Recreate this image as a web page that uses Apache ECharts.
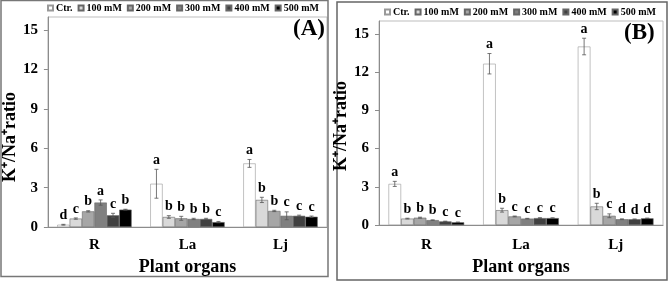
<!DOCTYPE html>
<html>
<head>
<meta charset="utf-8">
<script src="https://cdn.jsdelivr.net/npm/echarts@6/dist/echarts.min.js"></script>
<style>
html,body{margin:0;padding:0;background:#fff;}
#main{width:669px;height:281px;}
</style>
</head>
<body>
<div id="main"></div>
<script>
/*------------数据------------*/
var organs = ['R', 'La', 'Lj'];
var treatments = ['Ctr.', '100 mM', '200 mM', '300 mM', '400 mM', '500 mM'];
var colors = ['#ffffff', '#d9d9d9', '#a6a6a6', '#808080', '#404040', '#000000'];
var yTicks = [0, 3, 6, 9, 12, 15];

// (A)
var ctrA = [0.18, 3.3, 4.85];
var m100A = [0.65, 0.77, 2.07];
var m200A = [1.2, 0.67, 1.23];
var m300A = [1.87, 0.62, 0.86];
var m400A = [0.9, 0.62, 0.86];
var m500A = [1.33, 0.38, 0.79];
var errA = [[0.03, 1.1, 0.3], [0.05, 0.1, 0.2], [0.05, 0.15, 0.05], [0.2, 0.05, 0.3], [0.15, 0.05, 0.05], [0.03, 0.05, 0.05]];
var letA = [['d', 'a', 'a'], ['c', 'b', 'b'], ['b', 'b', 'b'], ['a', 'b', 'c'], ['c', 'b', 'c'], ['b', 'c', 'c']];

// (B)
var ctrB = [3.23, 12.65, 14.0];
var m100B = [0.51, 1.17, 1.46];
var m200B = [0.58, 0.68, 0.73];
var m300B = [0.39, 0.51, 0.46];
var m400B = [0.29, 0.55, 0.46];
var m500B = [0.22, 0.55, 0.53];
var errB = [[0.2, 0.8, 0.65], [0.03, 0.15, 0.25], [0.04, 0.03, 0.15], [0.02, 0.02, 0.03], [0.02, 0.03, 0.02], [0.02, 0.02, 0.02]];
var letB = [['a', 'a', 'a'], ['b', 'b', 'b'], ['b', 'c', 'c'], ['b', 'c', 'd'], ['c', 'c', 'd'], ['c', 'c', 'd']];

var valsA = [ctrA, m100A, m200A, m300A, m400A, m500A];
var valsB = [ctrB, m100B, m200B, m300B, m400B, m500B];

var FONT = '"Liberation Serif", "Times New Roman", serif';

/*------------series------------*/
function barSeries(vals, idx) {
	return vals.map(function(v, i) {
		return {
			type: 'bar',
			name: treatments[i],
			xAxisIndex: idx,
			yAxisIndex: idx,
			barGap: '0%',
			barCategoryGap: '20%',
			itemStyle: {color: colors[i], borderColor: i == 0 ? '#999' : '#666', borderWidth: 0.6},
			emphasis: {disabled: true},
			data: v
		};
	});
}

function errData(vals, errs) {
	var res = [];
	vals.forEach(function(v, s) {
		v.forEach(function(val, c) {
			res.push([c, s, val, errs[s][c]]);
		});
	});
	return res;
}

// 字母按 dataIndex 取
function makeRender(lets) {
	return function(params, api) {
		var c = api.value(0), s = api.value(1), val = api.value(2), e = api.value(3);
		var letter = lets[s][c];
		var band = api.size([1, 0])[0];
		var bw = band * 0.8 / 6;
		var cx = api.coord([c, 0])[0] - band * 0.4 + bw * (s + 0.5);
		var top = api.coord([c, val + e])[1];
		var bot = api.coord([c, Math.max(val - e, 0)])[1];
		var st = {stroke: '#555', lineWidth: 0.8};
		return {
			type: 'group',
			children: [
				{type: 'line', shape: {x1: cx, y1: top, x2: cx, y2: bot}, style: st},
				{type: 'line', shape: {x1: cx - 2, y1: top, x2: cx + 2, y2: top}, style: st},
				{type: 'line', shape: {x1: cx - 2, y1: bot, x2: cx + 2, y2: bot}, style: st},
				{type: 'text', x: cx, y: top - 2, style: {
					text: letter, fill: '#000', font: 'bold 14px ' + FONT,
					textAlign: 'center', textVerticalAlign: 'bottom'
				}}
			]
		};
	};
}

function errSeries(vals, errs, lets, idx) {
	return {
		type: 'custom',
		xAxisIndex: idx,
		yAxisIndex: idx,
		z: 5,
		renderItem: makeRender(lets),
		encode: {x: 0, y: 2},
		data: errData(vals, errs)
	};
}

function xAxisOpt(idx, margin, gap) {
	return {
		type: 'category',
		gridIndex: idx,
		data: organs,
		axisLine: {lineStyle: {color: '#8c8c8c', width: 1}},
		axisTick: {show: false},
		axisLabel: {margin: margin, color: '#000', fontFamily: FONT, fontWeight: 'bold', fontSize: 15},
		name: 'Plant organs',
		nameLocation: 'middle',
		nameGap: gap,
		nameTextStyle: {color: '#000', fontFamily: FONT, fontWeight: 'bold', fontSize: 18}
	};
}

function yAxisOpt(idx, gap, pad) {
	return {
		type: 'value',
		gridIndex: idx,
		min: 0,
		max: 16,
		interval: 1,
		splitLine: {show: false},
		axisLine: {show: true, lineStyle: {color: '#8c8c8c', width: 1}},
		axisTick: {show: true, length: 4, customValues: yTicks, lineStyle: {color: '#8c8c8c'}},
		axisLabel: {customValues: yTicks, margin: 10, color: '#000', fontFamily: FONT, fontWeight: 'bold', fontSize: 15},
		name: 'K\u207A/Na\u207Aratio',
		nameLocation: 'middle',
		nameGap: gap,
		nameTextStyle: {color: '#000', fontFamily: FONT, fontWeight: 'bold', fontSize: 18, padding: pad}
	};
}

function legendOpt(left, top) {
	return {
		left: left,
		top: top,
		width: 330,
		padding: 0,
		icon: 'rect',
		itemWidth: 5,
		itemHeight: 5,
		itemGap: 5,
		selectedMode: false,
		textStyle: {color: '#000', fontFamily: FONT, fontWeight: 'bold', fontSize: 10, padding: [0, 0, 0, -2]},
		data: treatments
	};
}

/*------------echarts设置------------*/
echarts.init(document.getElementById('main')).setOption({
	backgroundColor: '#fff',
	animation: false,
	legend: [legendOpt(47, 3), legendOpt(384, 7)],
	grid: [
		{left: 42, top: 17, width: 285, height: 218, show: true, borderColor: '#bdbdbd', borderWidth: 1},
		{left: 379, top: 21, width: 284, height: 218, show: true, borderColor: '#bdbdbd', borderWidth: 1}
	],
	xAxis: [xAxisOpt(0, 11, 27), xAxisOpt(1, 13, 27)],
	yAxis: [yAxisOpt(0, 23, [0, 30, 0, 0]), yAxisOpt(1, 23, [0, 6, 0, 0])],
	graphic: [
		{type: 'rect', shape: {x: 1, y: 0.5, width: 327, height: 276}, style: {fill: null, stroke: '#777', lineWidth: 1.5}},
		{type: 'rect', shape: {x: 337, y: 2, width: 330, height: 278}, style: {fill: null, stroke: '#666', lineWidth: 1.5}},
		{type: 'text', left: 293, top: 18, style: {text: '(A)', fill: '#000', font: 'bold 23px ' + FONT}},
		{type: 'text', left: 624, top: 22, style: {text: '(B)', fill: '#000', font: 'bold 23px ' + FONT}}
	],
	series: barSeries(valsA, 0)
		.concat([errSeries(valsA, errA, letA, 0)])
		.concat(barSeries(valsB, 1))
		.concat([errSeries(valsB, errB, letB, 1)])
});
</script>
</body>
</html>
